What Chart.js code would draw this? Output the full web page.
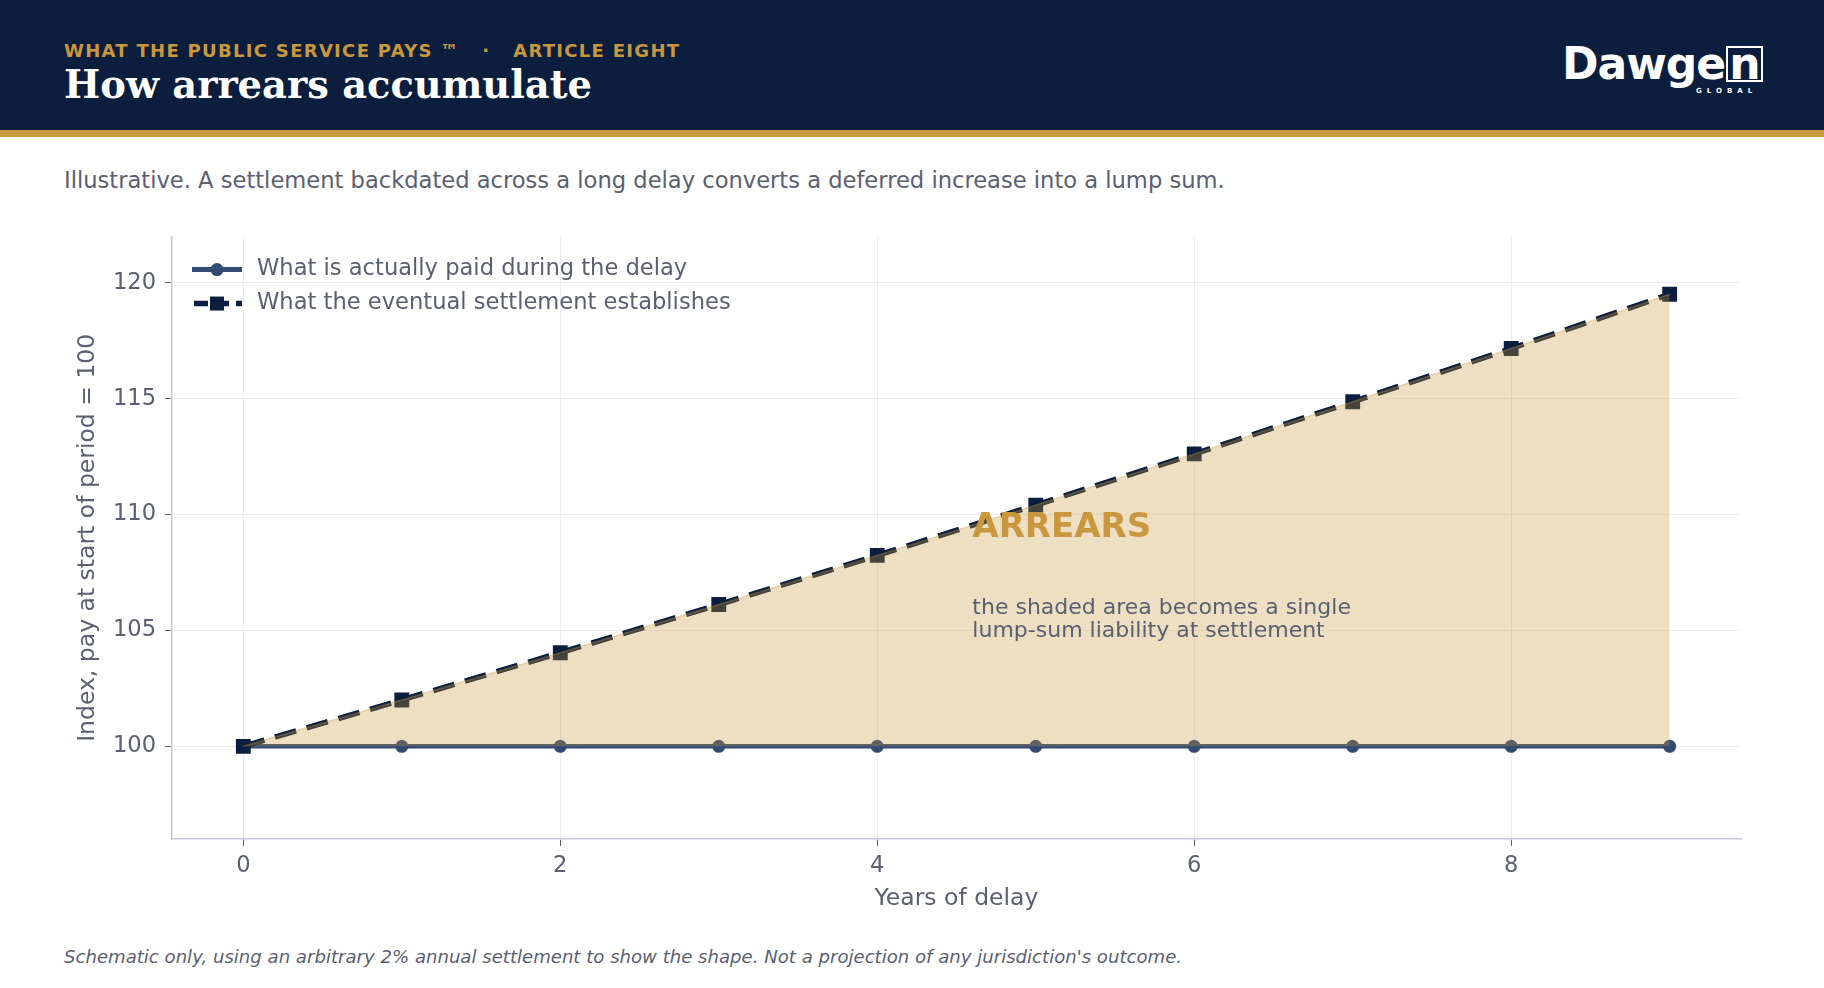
<!DOCTYPE html>
<html>
<head>
<meta charset="utf-8">
<script src="https://cdn.jsdelivr.net/npm/chart.js@4.4.1/dist/chart.umd.min.js"></script>
<style>
  html, body { margin: 0; padding: 0; background: #ffffff; }
  body { width: 1824px; height: 988px; position: relative; overflow: hidden; font-family: "DejaVu Sans", sans-serif; }
  .header { position: absolute; left: 0; top: 0; width: 1824px; height: 130px; background: #0b1e3e; }
  .goldbar { position: absolute; left: 0; top: 130px; width: 1824px; height: 7px; background: #c9983e; }
  .kicker { position: absolute; left: 64px; top: 41px; color: #c9983e; font-weight: bold; font-size: 18px; letter-spacing: 1.3px; line-height: 20px; white-space: pre; }
  .title { position: absolute; left: 64px; top: 63px; color: #ffffff; font-family: "DejaVu Serif", serif; font-weight: bold; font-size: 38.4px; line-height: 44px; white-space: nowrap; }
  .logo { position: absolute; left: 1562px; top: 37px; color: #ffffff; font-weight: bold; font-size: 44px; line-height: 54px; letter-spacing: -1px; }
  .logo .n { display: inline-block; border: 2px solid #ffffff; line-height: 32px; padding: 0 1px; margin-left: 1px; }
  .logo .global { position: absolute; left: 134px; top: 50px; font-size: 7px; line-height: 8px; letter-spacing: 5px; font-weight: bold; }
  .subtitle { position: absolute; left: 64px; top: 166px; color: #5a6070; font-size: 22.6px; line-height: 28px; white-space: nowrap; }
  .footer { position: absolute; left: 64px; top: 947px; color: #5a6070; font-size: 18.1px; line-height: 20px; font-style: italic; white-space: nowrap; }
  #wrap { position: absolute; left: 0; top: 214px; width: 1824px; height: 712px; }
</style>
</head>
<body>
<div class="header"></div>
<div class="goldbar"></div>
<div class="kicker">WHAT THE PUBLIC SERVICE PAYS ™   ·   ARTICLE EIGHT</div>
<div class="title">How arrears accumulate</div>
<div class="logo">Dawge<span class="n">n</span><span class="global">GLOBAL</span></div>
<div class="subtitle">Illustrative. A settlement backdated across a long delay converts a deferred increase into a lump sum.</div>
<div id="wrap"><canvas id="arrearsChart" width="1824" height="712"></canvas></div>
<div class="footer">Schematic only, using an arbitrary 2% annual settlement to show the shape. Not a projection of any jurisdiction's outcome.</div>

<script>
// data
var years = [0, 1, 2, 3, 4, 5, 6, 7, 8, 9];
var paid = [100, 100, 100, 100, 100, 100, 100, 100, 100, 100];
var settlement = [100, 102, 104.04, 106.12, 108.24, 110.41, 112.62, 114.87, 117.17, 119.51];
var xTicks = [0, 2, 4, 6, 8];
var yTicks = [100, 105, 110, 115, 120];
var seriesLabels = ['What is actually paid during the delay', 'What the eventual settlement establishes'];

var NAVY = '#0b1e3e';
var PAID_BLUE = '#324b72';
var TEXT_GREY = '#5a6070';
var GOLD = '#c9983e';

function points(vals) {
    return years.map(function(x, i) { return { x: x, y: vals[i] }; });
}

// legend with line + marker handles, drawn inside the plot at top-left
var handleLegend = {
    id: 'handleLegend',
    afterDraw: function(chart) {
        var ctx = chart.ctx;
        var left = chart.chartArea.left;
        var top = chart.chartArea.top;
        var rows = [top + 33, top + 67];
        ctx.save();
        // paid
        ctx.strokeStyle = PAID_BLUE;
        ctx.lineWidth = 5;
        ctx.beginPath();
        ctx.moveTo(left + 20, rows[0]);
        ctx.lineTo(left + 70, rows[0]);
        ctx.stroke();
        ctx.fillStyle = PAID_BLUE;
        ctx.beginPath();
        ctx.arc(left + 45, rows[0], 6.5, 0, Math.PI * 2);
        ctx.fill();
        // settlement
        ctx.strokeStyle = NAVY;
        ctx.lineWidth = 5.5;
        ctx.setLineDash([14, 7]);
        ctx.beginPath();
        ctx.moveTo(left + 22, rows[1]);
        ctx.lineTo(left + 70, rows[1]);
        ctx.stroke();
        ctx.setLineDash([]);
        ctx.fillStyle = NAVY;
        ctx.fillRect(left + 38, rows[1] - 7, 14, 14);
        // text
        ctx.fillStyle = TEXT_GREY;
        ctx.font = '22.6px "DejaVu Sans"';
        ctx.textBaseline = 'middle';
        ctx.textAlign = 'left';
        ctx.fillText(seriesLabels[0], left + 85, rows[0]);
        ctx.fillText(seriesLabels[1], left + 85, rows[1]);
        ctx.restore();
    }
};

// ARREARS label and note, placed in data coordinates
var arrearsNote = {
    id: 'arrearsNote',
    afterDraw: function(chart) {
        var ctx = chart.ctx;
        var xs = chart.scales.x, ys = chart.scales.y;
        ctx.save();
        ctx.textAlign = 'left';
        ctx.textBaseline = 'middle';
        ctx.fillStyle = GOLD;
        ctx.font = 'bold 34px "DejaVu Sans"';
        ctx.fillText('ARREARS', xs.getPixelForValue(4.6), ys.getPixelForValue(109.4));
        ctx.fillStyle = TEXT_GREY;
        ctx.font = '22px "DejaVu Sans"';
        ctx.fillText('the shaded area becomes a single', xs.getPixelForValue(4.6), ys.getPixelForValue(105.95));
        ctx.fillText('lump-sum liability at settlement', xs.getPixelForValue(4.6), ys.getPixelForValue(104.95));
        ctx.restore();
    }
};

document.addEventListener('DOMContentLoaded', function() {
    var ctx = document.getElementById('arrearsChart').getContext('2d');
    var arrearsChart = new Chart(ctx, {
        type: 'line',
        data: {
            datasets: [{
                label: seriesLabels[0],
                data: points(paid),
                borderColor: PAID_BLUE,
                backgroundColor: PAID_BLUE,
                borderWidth: 4.5,
                pointStyle: 'circle',
                pointRadius: 6.5,
                pointBorderWidth: 0,
                fill: false,
                order: 2
            }, {
                label: seriesLabels[1],
                data: points(settlement),
                borderColor: NAVY,
                backgroundColor: NAVY,
                borderWidth: 5.5,
                borderDash: [22, 11],
                pointStyle: 'rect',
                pointRadius: 10.5,
                pointBorderWidth: 0,
                fill: false,
                order: 1
            }, {
                label: 'arrears',
                data: points(settlement),
                borderWidth: 1.5,
                borderColor: 'rgba(201, 151, 62, 0.35)',
                pointRadius: 0,
                backgroundColor: 'rgba(201, 151, 62, 0.31)',
                fill: 0,
                order: 0
            }]
        },
        options: {
            responsive: false,
            animation: false,
            events: [],
            layout: { padding: { left: 0, right: 83, top: 0, bottom: 0 } },
            plugins: {
                legend: { display: false },
                tooltip: { enabled: false }
            },
            scales: {
                x: {
                    type: 'linear',
                    min: -0.45,
                    max: 9.45,
                    afterBuildTicks: function(scale) {
                        scale.ticks = xTicks.map(function(v) { return { value: v }; });
                    },
                    afterFit: function(scale) { scale.height = 87; },
                    grid: { color: '#ececf0', lineWidth: 1, tickColor: '#5a6070', tickLength: 7 },
                    border: { color: '#c5c8d6', width: 1.5 },
                    ticks: { color: TEXT_GREY, font: { family: 'DejaVu Sans', size: 22.6 }, padding: 7, maxRotation: 0 },
                    title: { display: true, text: 'Years of delay', color: TEXT_GREY, font: { family: 'DejaVu Sans', size: 23.5 }, padding: { top: 0, bottom: 13 } }
                },
                y: {
                    type: 'linear',
                    min: 96,
                    max: 122,
                    afterBuildTicks: function(scale) {
                        scale.ticks = yTicks.map(function(v) { return { value: v }; });
                    },
                    afterFit: function(scale) { scale.width = 172; },
                    grid: { color: '#ececf0', lineWidth: 1, tickColor: '#5a6070', tickLength: 7 },
                    border: { color: '#c5c8d6', width: 1.5 },
                    ticks: { color: TEXT_GREY, font: { family: 'DejaVu Sans', size: 22.6 }, padding: 9 },
                    title: { display: true, text: 'Index, pay at start of period = 100', color: TEXT_GREY, font: { family: 'DejaVu Sans', size: 23.5 }, padding: { top: 74, bottom: 0 } }
                }
            }
        },
        plugins: [handleLegend, arrearsNote]
    });
});
</script>
</body>
</html>
